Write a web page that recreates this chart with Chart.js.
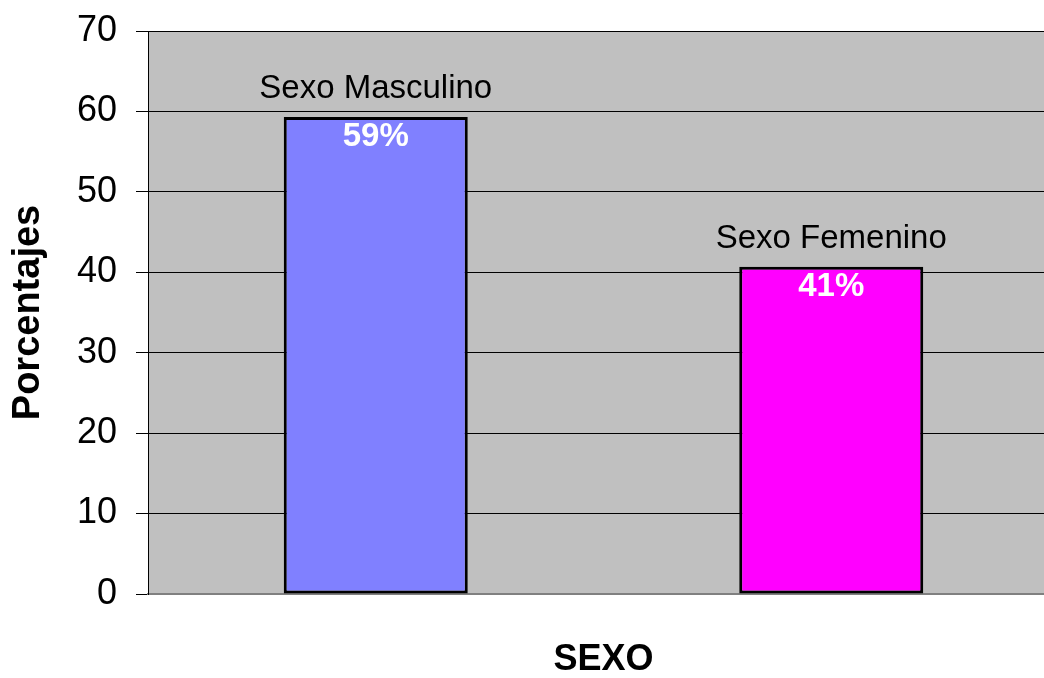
<!DOCTYPE html>
<html>
<head>
<meta charset="utf-8">
<script src="https://cdn.jsdelivr.net/npm/chart.js@4/dist/chart.umd.min.js"></script>
<style>
    html, body { margin: 0; padding: 0; background: #fff; overflow: hidden; }
    .chart-wrap { width: 1060px; height: 678px; position: relative; }
</style>
</head>
<body>
<div class="chart-wrap"><canvas id="sexoChart"></canvas></div>
<script>
// Data
const categories = ['Sexo Masculino', 'Sexo Femenino'];
const percentages = [59.3, 40.7];
const barColors = ['#8080FF', '#FF00FF'];
const yTicks = [0, 10, 20, 30, 40, 50, 60, 70];

const FONT = "'Liberation Sans', Arial, sans-serif";

// Grey plot background
const plotBackground = {
    id: 'plotBackground',
    beforeDraw(chart) {
        const { ctx, chartArea } = chart;
        ctx.save();
        ctx.fillStyle = '#C0C0C0';
        ctx.fillRect(chartArea.left, chartArea.top, chartArea.right - chartArea.left, chartArea.bottom - chartArea.top);
        ctx.restore();
    }
};

// Category name above each bar, percentage inside
const barLabels = {
    id: 'barLabels',
    afterDatasetsDraw(chart) {
        const { ctx } = chart;
        const meta = chart.getDatasetMeta(0);
        ctx.save();
        ctx.textAlign = 'center';
        ctx.textBaseline = 'alphabetic';
        meta.data.forEach((bar, i) => {
            ctx.fillStyle = '#000';
            ctx.font = `33px ${FONT}`;
            ctx.fillText(categories[i], bar.x, bar.y - 19);

            ctx.fillStyle = '#fff';
            ctx.font = `bold 33px ${FONT}`;
            ctx.fillText(Math.round(percentages[i]) + '%', bar.x, bar.y + 29);
        });
        ctx.restore();
    }
};

const ctx = document.getElementById('sexoChart').getContext('2d');
new Chart(ctx, {
    type: 'bar',
    data: {
        labels: categories,
        datasets: [{
            data: percentages,
            backgroundColor: barColors,
            borderColor: '#000',
            borderWidth: 3,
            borderSkipped: false,
            barPercentage: 0.404,
            categoryPercentage: 1
        }]
    },
    options: {
        responsive: true,
        maintainAspectRatio: false,
        animation: false,
        layout: {
            padding: { top: 31, right: 1, bottom: 0, left: 0 }
        },
        plugins: {
            legend: { display: false },
            tooltip: { enabled: false }
        },
        scales: {
            x: {
                grid: { display: false },
                ticks: { display: false },
                border: { color: '#808080', width: 2 },
                title: {
                    display: true,
                    text: 'SEXO',
                    color: '#000',
                    font: { family: FONT, size: 36, weight: 'bold', lineHeight: 1 },
                    padding: { top: 0, bottom: 0 }
                },
                afterFit: (scale) => { scale.height = 84; }
            },
            y: {
                min: yTicks[0],
                max: yTicks[yTicks.length - 1],
                afterBuildTicks: (scale) => { scale.ticks = yTicks.map(v => ({ value: v })); },
                ticks: {
                    color: '#000',
                    padding: 19,
                    font: { family: FONT, size: 36 }
                },
                grid: {
                    color: (c) => c.tick && c.tick.value === 0 ? '#808080' : '#000',
                    lineWidth: 1,
                    tickLength: 12,
                    tickColor: '#000'
                },
                border: { color: '#000', width: 1 },
                title: {
                    display: true,
                    text: 'Porcentajes',
                    color: '#000',
                    font: { family: FONT, size: 38, weight: 'bold' },
                    padding: { top: 6, bottom: 0 }
                },
                afterFit: (scale) => {
                    scale.width = 148;
                    scale.paddingTop = 0;
                    scale.paddingBottom = 0;
                }
            }
        }
    },
    plugins: [plotBackground, barLabels]
});
</script>
</body>
</html>
